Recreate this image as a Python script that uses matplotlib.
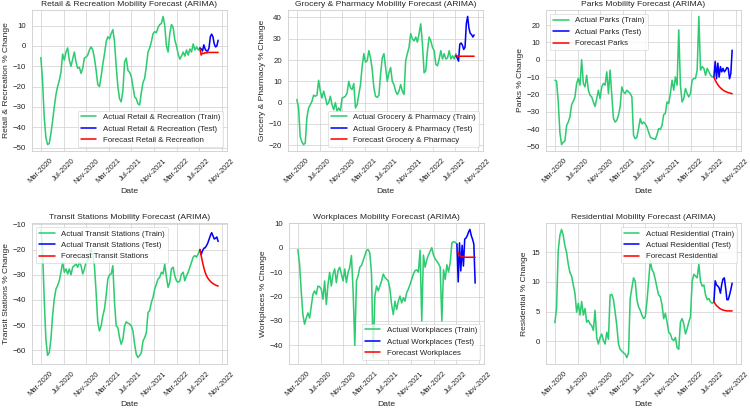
import pandas as pd
import matplotlib
matplotlib.use("Agg")
import matplotlib.pyplot as plt
import matplotlib.dates as mdates
import seaborn as sns

# dates: train sampled every 9 days, test/forecast weekly
train_dates = pd.date_range("2020-03-01", periods=96, freq="9D")
test_dates = pd.date_range("2022-07-04", periods=15, freq="7D")

retail_train = [-5.7, -17, -35, -45, -48.5, -48, -43, -37, -30, -24,
                -20, -17, -13, -4, -7, -3, -1, -7, -10, -6.5,
                -3, -8, -11, -10.5, -13.5, -11, -6, -5.5, -4.5, -2,
                -0.5, -2, -6, -12, -19, -20, -15, -9, -4, 2,
                4.5, 3.5, 6, 8, 2, -10, -20, -26, -27.5, -22,
                -8, -6, -12, -13, -15, -20, -25, -26, -28.5, -29,
                -23, -18, -16, -10, -3, -1, 2, 6, 7, 6.5,
                9, 10.5, 11, 14.5, 10, 0, -3, 6, 10.5, 9,
                3, 0, -4, -6.5, -5, -3, -5, -2, -4.5, -1.5,
                -3, 1, -2, -0.5, -2, -1]
retail_test = [-1, -1.5, -2.5, 0.5, -1.5, -2.5, -2.5, -1, 4.5, 5.8,
               4.5, 1, -0.5, 0, 2.8]
retail_fc = [-1.5, -4.5, -3.5, -3.8, -3.3, -3.5, -3.3, -3.2, -3.2, -3.2,
             -3.2, -3.2, -3.2, -3.2, -3.2]

grocery_train = [1.5, -2.5, -16, -18.5, -19.7, -19, -7, -2.5, -1, 0.6,
                 3.5, 3, 3.5, 10.5, 5.4, 2.2, 5.4, 2.5, -1, 0,
                 3, -1, -3.3, 0, -4, -2.5, -4, 2.2, 2.5, 3,
                 4.6, 10, 7, 6.2, 9, -2.5, -1, 3.8, 8.5, 17,
                 23, 19, 19.7, 24.4, 21, 15.7, 7, 3, 2.5, 3.5,
                 13.3, 21, 23, 16.5, 10, 14, 16.5, 10, 8.5, 5.4,
                 3.8, 5.4, 8.5, 5.4, 3.8, 19.7, 23, 26, 32.4, 30,
                 29, 30.8, 28.4, 32.4, 37, 27.6, 14, 15, 24.4, 30.8,
                 29, 26, 24.4, 18, 17.3, 20.5, 24.4, 20.5, 23, 20.5,
                 21, 24.4, 20.5, 22, 20.5, 23]
grocery_test = [22, 21, 19.5, 27.5, 28, 27, 25, 26, 37, 40.5,
                35, 32.5, 32, 30.8, 31.8]
grocery_fc = [22.3, 21.9, 21.8, 21.8, 21.8, 21.8, 21.8, 21.8, 21.8, 21.8,
              21.8, 21.8, 21.8, 21.8, 21.8]

parks_train = [-11.8, -12.4, -24, -42, -49, -47.6, -47, -38, -36, -33,
               -26, -24, -21.5, -13.7, -10.8, -14.7, 0, -13.7, -15.7, -9,
               -17.6, -20.5, -21.5, -24.4, -27, -22.4, -17.6, -22.4, -15.7, -13.7,
               -14.7, -7, -19.5, -6, -20.5, -34, -36, -35, -32, -27,
               -15.7, -18.6, -19.5, -17.6, -18.6, -19.5, -21.5, -43.7, -45.6, -44.7,
               -39.8, -34, -37, -36, -37, -38.9, -41.8, -44.7, -45.3, -45.6,
               -46, -43.3, -39.8, -40.2, -37.9, -31.7, -31, -24.4, -25.3, -19.5,
               -11.8, -17.6, -9.9, -14.7, 17.2, -14.7, -24.4, -22.4, -16.6, -19.5,
               -21.5, -19.5, -11.8, -10.8, -10.8, -6, 25, -6, -4, -5,
               -9, -5, -7, -9, -9.9, -9.9]
parks_test = [-9.9, -1, -11, -2, -10, -4, -7, -5, -7, -6,
              -4.5, -5, -11, -8, 5.5]
parks_fc = [-10, -11.8, -13.2, -14.4, -15.4, -16.2, -16.9, -17.5, -18, -18.4,
            -18.7, -19, -19.2, -19.4, -19.6]

transit_train = [-12, -20, -39.7, -55.6, -62, -61, -55.6, -46.3, -39.7, -35.7,
                 -34.3, -32.4, -29, -25, -29, -27.7, -29.7, -27.7, -30, -27,
                 -26.4, -25.7, -27, -25, -26.4, -29.7, -27.7, -25, -24.4, -22.4,
                 -19.7, -21.7, -26.4, -37, -49, -52.3, -50.3, -46.3, -43.6, -38.3,
                 -31.7, -30, -29.7, -26.4, -41, -50.3, -51, -55, -57.6, -55.6,
                 -50.3, -48.7, -49.2, -49.6, -50.3, -52.3, -57.6, -61.6, -62.9, -62,
                 -61, -56.3, -55, -53, -45, -44.3, -41, -39, -35.7, -33.7,
                 -31.7, -31, -29, -29.7, -25.7, -31, -35, -33, -27.7, -27,
                 -30.4, -32.4, -33, -32.4, -29.7, -29, -32.4, -30.4, -29, -27,
                 -25, -23, -22.4, -23, -21.7, -20]
transit_test = [-20, -22, -20.5, -19.5, -19.3, -18.5, -17.5, -16, -14.5, -13.3,
                -14.5, -15.8, -15.5, -15, -16.8]
transit_fc = [-20, -22.5, -25, -27.2, -29, -30.3, -31.3, -32, -32.6, -33.1,
              -33.5, -33.8, -34.1, -34.3, -34.5]

work_train = [-0.8, -6.6, -17.7, -27.4, -31.3, -28.8, -26.7, -28.8, -24, -19.1,
              -17.7, -19.1, -15.7, -16, -17, -21.1, -13.6, -23.3, -15, -10.1,
              -15.7, -10.8, -8.7, -14.3, -9.4, -8, -10.8, -13.6, -8.7, -14.3,
              -10.1, -8, -3.2, -17.7, -40, -13.6, -11.5, -8, -7.3, -5.3,
              -3.2, -1.1, -0.8, -2.2, -10.8, -45, -19.8, -15.7, -17.7, -15.7,
              -13.6, -10.8, -12.2, -12.9, -13.6, -17, -23.3, -27.4, -21.9, -25.3,
              -21.9, -19.8, -22.6, -20.5, -21.9, -18.4, -17, -15, -12.9, -10.8,
              -9.4, -9.1, -10, -1, -30, -3, -8, -5, -3, -1.5,
              0, -3, -4.5, -5.5, -6.5, -8, -30, -9, -13, -7,
              -10, -6, 2, 2.5, 2.2, 1.5]
work_test = [1.5, -14, 2, -9.5, 1, -7.5, 3.5, 4, 5, 6.5,
             7.5, 5, 3.5, 1.5, -14.5]
work_fc = [-1.5, -2, -3, -3.5, -3.7, -3.8, -3.9, -3.9, -3.9, -3.9,
           -3.9, -3.9, -3.9, -3.9, -3.9]

resid_train = [3.1, 5.5, 15.3, 17.9, 18.9, 17.9, 16.1, 15, 13, 11.6,
               11, 9.5, 8.1, 4.9, 6.4, 4.4, 6.7, 4.4, 5.5, 3.2,
               3.5, 2.9, 2.6, 1.8, 5.2, 0.6, -0.5, 0.6, 1.2, 0.1,
               -0.5, 1.5, 0.3, 7.8, 7.9, 7, 4.9, 2.6, -0.5, -1.4,
               -1.7, -2, -2.2, -2.8, -2, 7.2, 9, 10.7, 10.1, 7,
               5.8, 5.2, 4.4, 3.8, 4.1, 6.7, 10.1, 13.6, 12.1, 11.6,
               10.4, 9, 7.8, 7.5, 6.1, 3.8, 4.7, 3.2, 1.5, 1.2,
               0.3, 0.1, 0.6, -1.1, -1.4, 3.2, 3.8, 2.9, 1.2, 2.1,
               3.2, 4.1, 10.1, 11.3, 11, 10.7, 13, 10.1, 9.3, 9.5,
               7.8, 7, 7.2, 6.6, 6.4, 6.6]
resid_test = [6.6, 10.2, 9.5, 9.3, 9.0, 8.1, 9.6, 10.5, 10.7, 9.0,
              7.0, 7.0, 7.8, 8.7, 9.8]
resid_fc = [6.7, 6.3, 6.0, 5.8, 5.6, 5.45, 5.35, 5.25, 5.2, 5.15,
            5.1, 5.1, 5.1, 5.1, 5.1]

categories = ["Retail & Recreation", "Grocery & Pharmacy", "Parks",
              "Transit Stations", "Workplaces", "Residential"]
train_vals = [retail_train, grocery_train, parks_train,
              transit_train, work_train, resid_train]
test_vals = [retail_test, grocery_test, parks_test,
             transit_test, work_test, resid_test]
fc_vals = [retail_fc, grocery_fc, parks_fc, transit_fc, work_fc, resid_fc]
legend_locs = ["lower right", "lower right", "upper left",
               "upper left", "lower right", "upper right"]

# axes boxes in pixels (left, top, right, bottom)
W, H = 750, 411
boxes = [(32, 10, 227, 151), (288, 10, 483, 151), (546, 10, 741, 151),
         (32, 223, 227, 364), (289, 223, 484, 364), (546, 223, 741, 364)]

sns.set_theme(style="whitegrid")
plt.rcParams["font.family"] = ["Liberation Sans", "DejaVu Sans"]

fig, axes = plt.subplots(2, 3, figsize=(16, 8.768))

for ax, name, tr, te, fc, loc, box in zip(axes.flat, categories, train_vals,
                                           test_vals, fc_vals, legend_locs, boxes):
    ax.plot(train_dates, tr, color="#2ecc71", lw=2.4, label=f"Actual {name} (Train)")
    ax.plot(test_dates, te, color="blue", lw=2.4, label=f"Actual {name} (Test)")
    ax.plot(test_dates, fc, color="red", lw=2.4, label=f"Forecast {name}")
    ax.set_title(f"{name} Mobility Forecast (ARIMA)", fontsize=13)
    ax.set_xlabel("Date", fontsize=13)
    ax.set_ylabel(f"{name} % Change", fontsize=13)
    ax.legend(loc=loc, fontsize=12)
    ax.xaxis.set_major_locator(mdates.MonthLocator(bymonth=[3, 7, 11]))
    ax.xaxis.set_major_formatter(mdates.DateFormatter("%b-%Y"))
    ax.tick_params(axis="x", rotation=45, labelsize=11.5)
    ax.tick_params(axis="y", labelsize=12)
    l, t, r, b = box
    ax.set_position([l / W, 1 - b / H, (r - l) / W, (b - t) / H])

fig.savefig("out.png", dpi=46.875)
